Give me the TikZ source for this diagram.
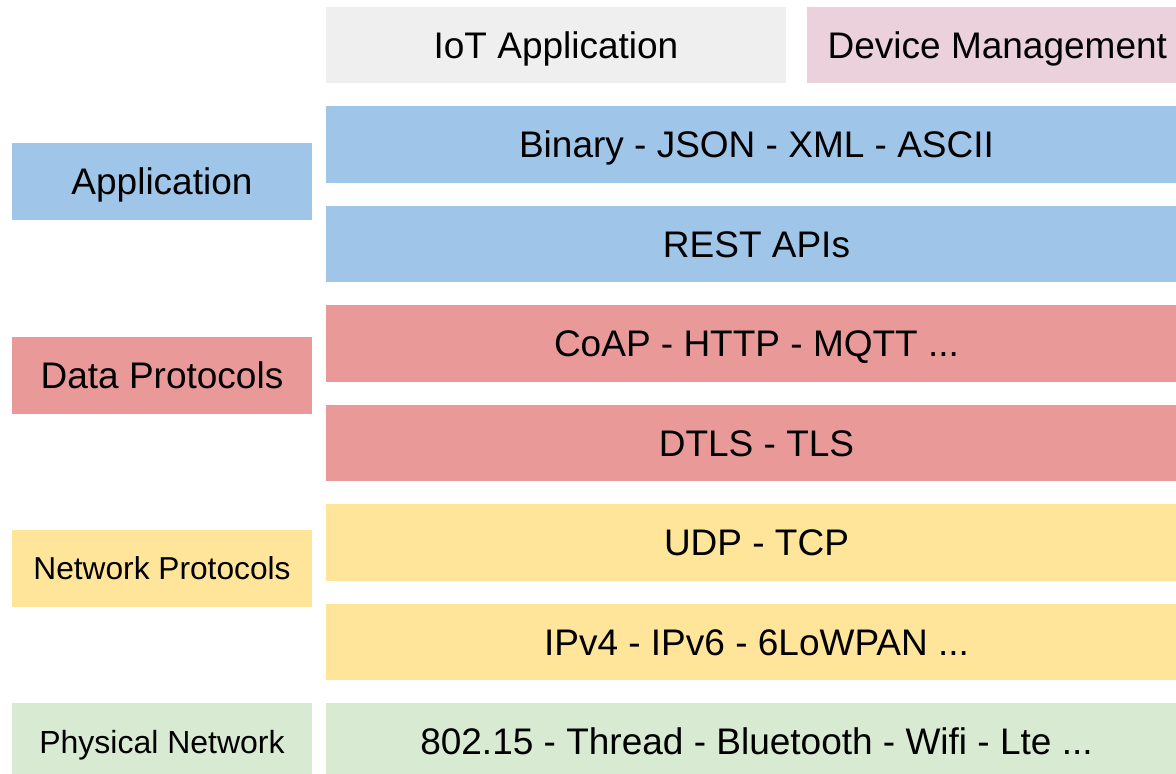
\documentclass[tikz,border=0pt]{standalone}
\usepackage{fontspec}
\setmainfont{Liberation Sans}
\usepackage{xcolor}
\usepackage{tikz}
\definecolor{lblue}{HTML}{9FC5E8}
\definecolor{lred}{HTML}{EA9999}
\definecolor{lyellow}{HTML}{FFE599}
\definecolor{lgreen}{HTML}{D9EAD3}
\definecolor{lgray}{HTML}{EFEFEF}
\definecolor{lpink}{HTML}{EAD1DC}

\begin{document}
\begin{tikzpicture}[x=1pt, y=-1pt,
  layer/.style={inner sep=0pt, minimum height=76.7pt, text height=26.5pt, text depth=0pt,
    font=\fontsize{37}{44}\selectfont},
  rowbox/.style={layer, minimum width=861pt},
  sidebox/.style={layer, minimum width=300pt}]
\clip (0,0) rectangle (1176,774);
\fill[white] (0,0) rectangle (1176,774);
% top row
\node[layer, fill=lgray, minimum width=460pt] (iotapp) at (556,45.05) {IoT Application};
\node[layer, fill=lpink, minimum width=381.3pt] (devmgmt) at (997.35,45.05) {Device Management};
% stack
\node[rowbox, fill=lblue] (formats) at (756.5,144.55) {Binary - JSON - XML - ASCII};
\node[rowbox, fill=lblue] (rest) at (756.5,244.05) {REST APIs};
\node[rowbox, fill=lred] (coap) at (756.5,343.55) {CoAP - HTTP - MQTT ...};
\node[rowbox, fill=lred] (dtls) at (756.5,443.05) {DTLS - TLS};
\node[rowbox, fill=lyellow] (udp) at (756.5,542.55) {UDP - TCP};
\node[rowbox, fill=lyellow] (ip) at (756.5,642.05) {IPv4 - IPv6 - 6LoWPAN ...};
\node[rowbox, fill=lgreen] (phy) at (756.5,741.55) {802.15 - Thread - Bluetooth - Wifi - Lte ...};
% side labels
\node[sidebox, fill=lblue] (application) at (162,181.5) {Application};
\node[sidebox, fill=lred] (dataproto) at (162,375.2) {Data Protocols};
\node[sidebox, fill=lyellow, text height=22.7pt, font=\fontsize{31.7}{38}\selectfont] (netproto) at (162,568.35) {Network Protocols};
\node[sidebox, fill=lgreen, text height=22.9pt, font=\fontsize{32}{38}\selectfont] (phynet) at (162,741.55) {Physical Network};
\end{tikzpicture}
\end{document}
